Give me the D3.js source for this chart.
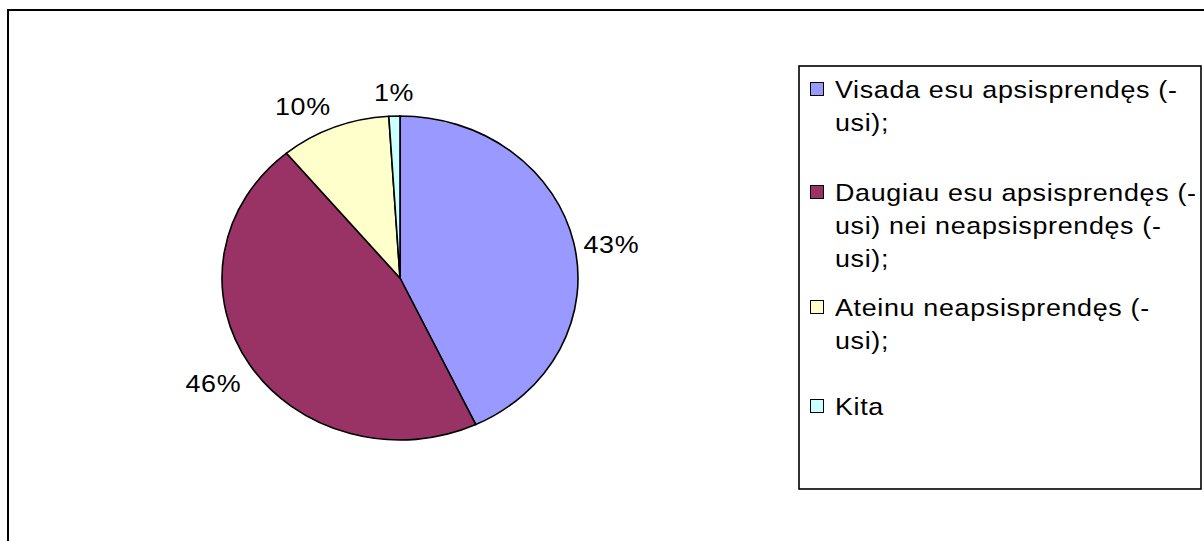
<!DOCTYPE html>
<html>
<head>
<meta charset="utf-8">
<script src="https://cdn.jsdelivr.net/npm/d3@7"></script>
<style>
  html, body { margin: 0; padding: 0; background: #fff; }
  svg { display: block; }
  text { font-family: "Liberation Sans", Arial, sans-serif; fill: #000; }
</style>
</head>
<body>
<div id="chart"></div>
<script>
// Survey answers and their shares (percent)
const categories = [
  "Visada esu apsisprendęs (-usi);",
  "Daugiau esu apsisprendęs (-usi) nei neapsisprendęs (-usi);",
  "Ateinu neapsisprendęs (-usi);",
  "Kita"
];
const shares = [43, 46, 10, 1];
const sliceColors = ["#9999FF", "#993366", "#FFFFCC", "#CCFFFF"];
// Legend text as it wraps inside the legend box
const legendLines = [
  ["Visada esu apsisprendęs (-", "usi);"],
  ["Daugiau esu apsisprendęs (-", "usi) nei neapsisprendęs (-", "usi);"],
  ["Ateinu neapsisprendęs (-", "usi);"],
  ["Kita"]
];

const W = 1204, H = 541;
const svg = d3.select("#chart").append("svg").attr("width", W).attr("height", H);

// chart frame
svg.append("rect")
  .attr("x", 8).attr("y", 10).attr("width", W + 20).attr("height", H + 20)
  .attr("fill", "#fff").attr("stroke", "#000").attr("stroke-width", 2);

// pie, drawn as an ellipse (wider than tall)
const cx = 400, cy = 278, rx = 178, ry = 162;
const pie = d3.pie().sort(null).value(d => d);
const arcs = pie(shares);
const arc = d3.arc().innerRadius(0).outerRadius(ry);

const pieG = svg.append("g")
  .attr("transform", `translate(${cx},${cy}) scale(${rx / ry},1)`);
pieG.selectAll("path")
  .data(arcs)
  .join("path")
  .attr("d", arc)
  .attr("fill", (d, i) => sliceColors[i])
  .attr("stroke", "#000")
  .attr("stroke-width", 1.6)
  .attr("stroke-linejoin", "round")
  .attr("vector-effect", "non-scaling-stroke");

// text style shared by labels and legend (slightly wide lettering)
const FONT = 24, SX = 1.12, LS = 0.6;
function styledText(sel) {
  return sel.style("font-size", FONT + "px").style("letter-spacing", LS + "px");
}

// percentage labels outside the slices
const fmt = v => Math.round(v) + "%";
arcs.forEach((d, i) => {
  const a = (d.startAngle + d.endAngle) / 2;
  const s = Math.sin(a), c = Math.cos(a);
  const ax = cx + (rx + 10) * s;
  const ay = cy - (ry + 10) * c - c * 14 + 8 * (1 - c * c);
  const anchor = Math.abs(s) < 0.2 ? "middle" : (s > 0 ? "start" : "end");
  styledText(svg.append("text"))
    .attr("transform", `translate(${ax},${ay}) scale(${SX},1)`)
    .attr("text-anchor", anchor)
    .attr("dy", "0.35em")
    .text(fmt(shares[i]));
});

// legend
const lg = { x: 799, y: 66, w: 402, h: 423 };
svg.append("rect")
  .attr("x", lg.x).attr("y", lg.y).attr("width", lg.w).attr("height", lg.h)
  .attr("fill", "#fff").attr("stroke", "#000").attr("stroke-width", 1.6);

const entryBaselines = [98, 201, 316, 415];
const lineStep = 33;
categories.forEach((cat, i) => {
  const bl = entryBaselines[i];
  svg.append("rect")
    .attr("x", 810.5).attr("y", bl - 15.5).attr("width", 13).attr("height", 13)
    .attr("fill", sliceColors[i]).attr("stroke", "#000").attr("stroke-width", 1);
  legendLines[i].forEach((ln, j) => {
    styledText(svg.append("text"))
      .attr("transform", `translate(835,${bl + j * lineStep}) scale(${SX},1)`)
      .text(ln);
  });
});
</script>
</body>
</html>
